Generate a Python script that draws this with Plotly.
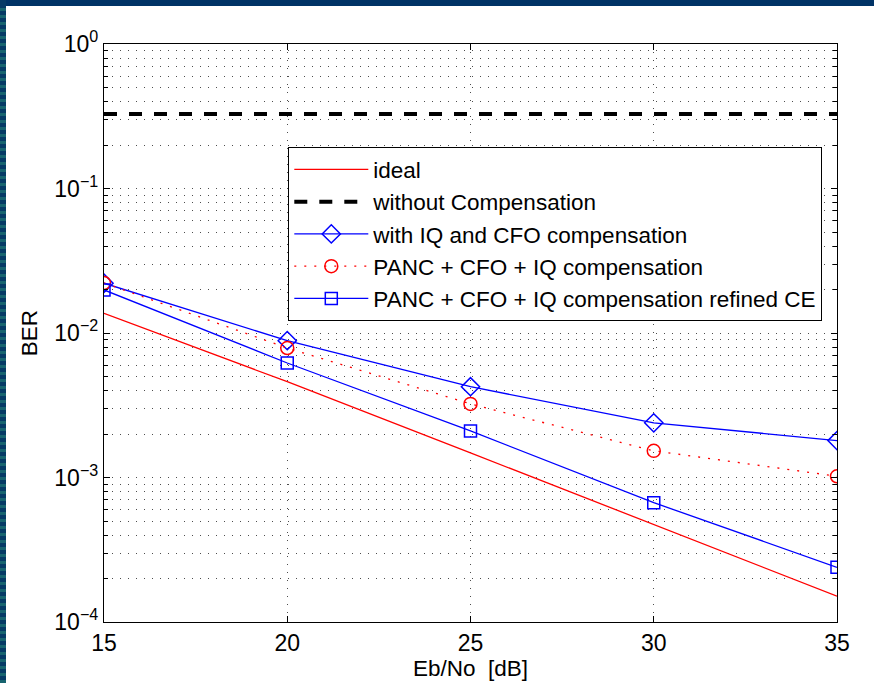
import plotly.graph_objects as go

# ---- data ----
ebno = [15, 20, 25, 30, 35]
ber_ideal = [0.01368, 0.0046, 0.00148, 0.00047, 0.000151]
ber_without = [0.328, 0.328, 0.328, 0.328, 0.328]
ber_iq_cfo = [0.0221, 0.00885, 0.00425, 0.00239, 0.00180]
ber_panc = [0.0222, 0.00787, 0.00323, 0.00153, 0.00102]
ber_refined = [0.01985, 0.0062, 0.00210, 0.00067, 0.000239]

x_ticks = [15, 20, 25, 30, 35]
y_ticks = [1e-4, 1e-3, 1e-2, 1e-1, 1]
y_ticktext = ["10<sup>−4</sup>", "10<sup>−3</sup>", "10<sup>−2</sup>", "10<sup>−1</sup>", "10<sup>0</sup>"]
y_minor = [m * 10 ** e for e in range(-4, 0) for m in range(2, 10)]

FONT = "Liberation Sans, Arial, Helvetica, sans-serif"
W, H = 874, 683
ML, MR, MT, MB = 104, 37, 44, 61
PW, PH = W - ML - MR, H - MT - MB

fig = go.Figure()
fig.add_trace(go.Scatter(x=ebno, y=ber_ideal, mode="lines", name="ideal",
                         line=dict(color="#ff0000", width=1.3)))
fig.add_trace(go.Scatter(x=ebno, y=ber_without, mode="lines", name="without Compensation",
                         line=dict(color="#000000", width=4, dash="13px,12px")))
fig.add_trace(go.Scatter(x=ebno, y=ber_iq_cfo, mode="lines+markers", name="with IQ and CFO compensation",
                         line=dict(color="#0000ff", width=1.3),
                         marker=dict(symbol="diamond-open", size=14, color="#0000ff", line=dict(width=1.5))))
fig.add_trace(go.Scatter(x=ebno, y=ber_panc, mode="lines+markers", name="PANC + CFO + IQ compensation",
                         line=dict(color="#ff0000", width=1.3, dash="2px,8px"),
                         marker=dict(symbol="circle-open", size=13, color="#ff0000", line=dict(width=1.5))))
fig.add_trace(go.Scatter(x=ebno, y=ber_refined, mode="lines+markers", name="PANC + CFO + IQ compensation refined CE",
                         line=dict(color="#0000ff", width=1.3),
                         marker=dict(symbol="square-open", size=12, color="#0000ff", line=dict(width=1.5))))

grid_dash = "1px,7px"
grid_color = "#4d4d4d"

fig.update_layout(
    width=W, height=H,
    margin=dict(l=ML, r=MR, t=MT, b=MB, autoexpand=False),
    paper_bgcolor="white", plot_bgcolor="white",
    font=dict(family=FONT, size=23, color="black"),
    showlegend=True,
    legend=dict(x=(288 - ML) / PW, y=(H - MB - 147) / PH, xanchor="left", yanchor="top",
                bgcolor="white", bordercolor="black", borderwidth=1.3,
                font=dict(family=FONT, size=22.5, color="black"),
                itemwidth=74),
    xaxis=dict(range=[15, 35], tickvals=x_ticks, ticktext=[str(v) for v in x_ticks],
               tickfont=dict(size=23), automargin=False,
               showline=True, linecolor="black", linewidth=1.3, mirror="ticks",
               ticks="inside", ticklen=6, tickcolor="black",
               showgrid=True, gridcolor=grid_color, griddash=grid_dash, gridwidth=1,
               zeroline=False,
               title=dict(text="Eb/No  [dB]", font=dict(family=FONT, size=22.5), standoff=3)),
    yaxis=dict(type="log", range=[-4, 0], tickvals=y_ticks, ticktext=y_ticktext,
               tickfont=dict(size=23), automargin=False,
               showline=True, linecolor="black", linewidth=1.3, mirror="ticks",
               ticks="inside", ticklen=6, tickcolor="black",
               showgrid=True, gridcolor=grid_color, griddash=grid_dash, gridwidth=1,
               zeroline=False,
               minor=dict(tickvals=y_minor, ticks="inside", ticklen=4, tickcolor="black",
                          showgrid=True, gridcolor=grid_color, griddash=grid_dash, gridwidth=1),
               title=dict(text="BER", font=dict(family=FONT, size=22.5), standoff=10)),
)

# decorative frame bands (top and left) like the reference slide background
def px_x(p):
    return (p - ML) / PW

def px_y(p):
    return (H - MB - p) / PH

fig.add_shape(type="rect", xref="paper", yref="paper",
              x0=px_x(0), x1=px_x(W), y0=px_y(6), y1=px_y(-1),
              fillcolor="#003366", line=dict(width=0), layer="above")
fig.add_shape(type="rect", xref="paper", yref="paper",
              x0=px_x(0), x1=px_x(6), y0=px_y(H), y1=px_y(0),
              fillcolor="#063a66", line=dict(width=0), layer="above")
for yy in range(8, H, 7):
    fig.add_shape(type="rect", xref="paper", yref="paper",
                  x0=px_x(0), x1=px_x(6), y0=px_y(yy + 3), y1=px_y(yy),
                  fillcolor="#17646f", line=dict(width=0), layer="above")

fig.write_html("out.html", config={"displayModeBar": False},
               post_script="document.body.style.margin='0';document.body.style.overflow='hidden';")
